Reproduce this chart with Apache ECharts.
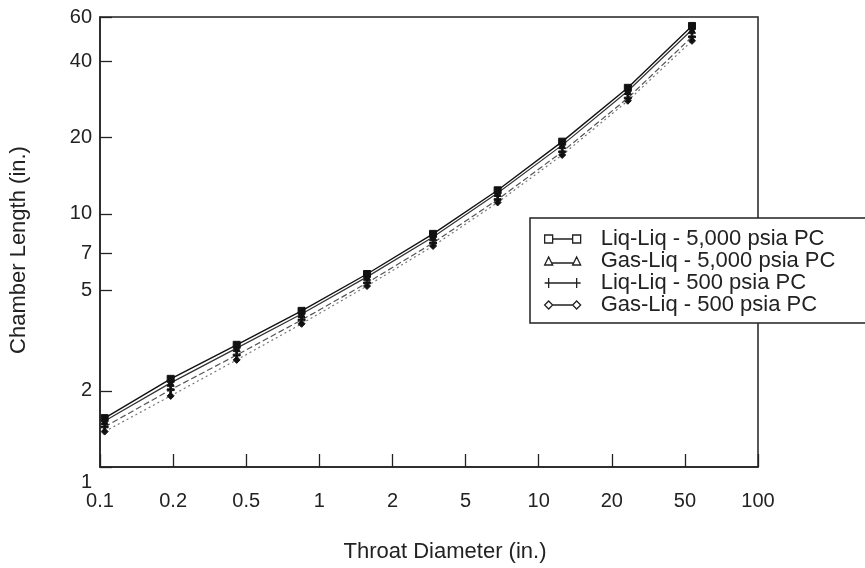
<!DOCTYPE html>
<html><head><meta charset="utf-8">
<script src="https://cdn.jsdelivr.net/npm/echarts@6/dist/echarts.min.js"></script>
<style>html,body{margin:0;padding:0;background:#fff}#c{width:865px;height:568px}</style>
</head><body><div id="c"></div>
<script>
const throatDiameter = [0.105, 0.21, 0.42, 0.83, 1.65, 3.3, 6.5, 12.8, 25.5, 50];
const liqLiq5000 = [1.56, 2.23, 3.04, 4.14, 5.79, 8.34, 12.4, 19.3, 31.5, 55.3];
const gasLiq5000 = [1.52, 2.15, 2.95, 4.02, 5.64, 8.11, 12.1, 18.7, 30.6, 53.4];
const liqLiq500 = [1.44, 2.02, 2.77, 3.81, 5.34, 7.68, 11.4, 17.6, 28.7, 50.1];
const gasLiq500 = [1.38, 1.91, 2.65, 3.68, 5.19, 7.47, 11.1, 17.1, 28.0, 48.3];
const xTickLabels = ['0.1', '0.2', '0.5', '1', '2', '5', '10', '20', '50', '100'];
const yTickValues = [1, 2, 5, 7, 10, 20, 40, 60];
const seriesNames = ['Liq-Liq - 5,000 psia PC', 'Gas-Liq - 5,000 psia PC', 'Liq-Liq - 500 psia PC', 'Gas-Liq - 500 psia PC'];

const FONT = 'Liberation Sans';
const pairs = vals => throatDiameter.map((x, i) => [x, vals[i]]);
const legendIcons = [
  'path://M0,1h8v8h-8z M8,5h20 M28,1h8v8h-8z',
  'path://M0,9l4,-8l4,8z M7,7h22 M28,9l4,-8l4,8z',
  'path://M0,5h36 M4,0v10 M32,0v10',
  'path://M0,5l4,-4l4,4l-4,4z M8,5h20 M28,5l4,-4l4,4l-4,4z'
];
const seriesSymbols = ['rect', 'triangle', 'path://M3,0h2v3h3v2h-3v3h-2v-3h-3v-2h3z', 'diamond'];
const lineStyles = [
  {color: '#111', width: 1.4, type: 'solid'},
  {color: '#333', width: 1.2, type: 'solid'},
  {color: '#555', width: 1.2, type: [6, 3]},
  {color: '#777', width: 1.2, type: [2, 3]}
];
const allValues = [liqLiq5000, gasLiq5000, liqLiq500, gasLiq500];

const chart = echarts.init(document.getElementById('c'), null, {renderer: 'canvas'});
chart.setOption({
  animation: false,
  backgroundColor: '#fff',
  textStyle: {fontFamily: FONT},
  grid: {left: 100, right: 107, top: 17, bottom: 101, show: true, borderColor: '#222', borderWidth: 1.5, backgroundColor: 'transparent'},
  legend: {
    orient: 'vertical',
    left: 530, top: 218,
    padding: [10, 33, 7, 14],
    itemGap: 0,
    itemWidth: 36, itemHeight: 10,
    backgroundColor: '#fff',
    borderColor: '#222', borderWidth: 1.5, borderRadius: 0,
    textStyle: {fontFamily: FONT, fontSize: 22, color: '#222', lineHeight: 21, padding: [0, 0, 0, 15]},
    data: seriesNames.map((n, i) => ({name: n, icon: legendIcons[i], itemStyle: {color: '#fff', borderColor: '#222', borderWidth: 1.3}}))
  },
  xAxis: [
    {
      type: 'log', min: 0.1, max: 100, position: 'bottom',
      axisLine: {show: false}, axisTick: {show: false}, axisLabel: {show: false}, splitLine: {show: false}
    },
    {
      type: 'category', data: xTickLabels, boundaryGap: false, position: 'bottom',
      name: 'Throat Diameter (in.)', nameLocation: 'middle', nameGap: 74,
      nameTextStyle: {fontFamily: FONT, fontSize: 22, color: '#222', padding: [0, 0, 0, 32]},
      axisLine: {show: true, lineStyle: {color: '#222', width: 1.5}},
      axisTick: {show: true, inside: true, length: 13, interval: 0, lineStyle: {color: '#222', width: 1.3}},
      axisLabel: {interval: 0, margin: 24, fontFamily: FONT, fontSize: 20, color: '#222'},
      splitLine: {show: false}
    }
  ],
  yAxis: {
    type: 'log', min: 1, max: 60, logBase: 10,
    name: 'Chamber Length (in.)', nameLocation: 'middle', nameGap: 70,
    nameTextStyle: {fontFamily: FONT, fontSize: 22, color: '#222', padding: [0, 16, 0, 0]},
    axisLine: {show: true, lineStyle: {color: '#222', width: 1.5}},
    axisTick: {show: true, inside: true, length: 12, customValues: yTickValues, lineStyle: {color: '#222', width: 1.3}},
    axisLabel: {
      customValues: yTickValues, margin: 8, fontFamily: FONT, fontSize: 20, color: '#222',
      formatter: v => (Math.round(v) === 1 ? '{lo|1}' : String(Math.round(v))),
      rich: {lo: {fontFamily: FONT, fontSize: 20, color: '#222', padding: [30, 0, 0, 0]}}
    },
    splitLine: {show: false}
  },
  series: allValues.map((vals, i) => ({
    name: seriesNames[i], type: 'line', xAxisIndex: 0, yAxisIndex: 0,
    data: pairs(vals),
    symbol: seriesSymbols[i], symbolSize: 7,
    itemStyle: {color: '#111', borderColor: '#111'},
    lineStyle: lineStyles[i],
    z: 4 - i
  }))
});
</script></body></html>
